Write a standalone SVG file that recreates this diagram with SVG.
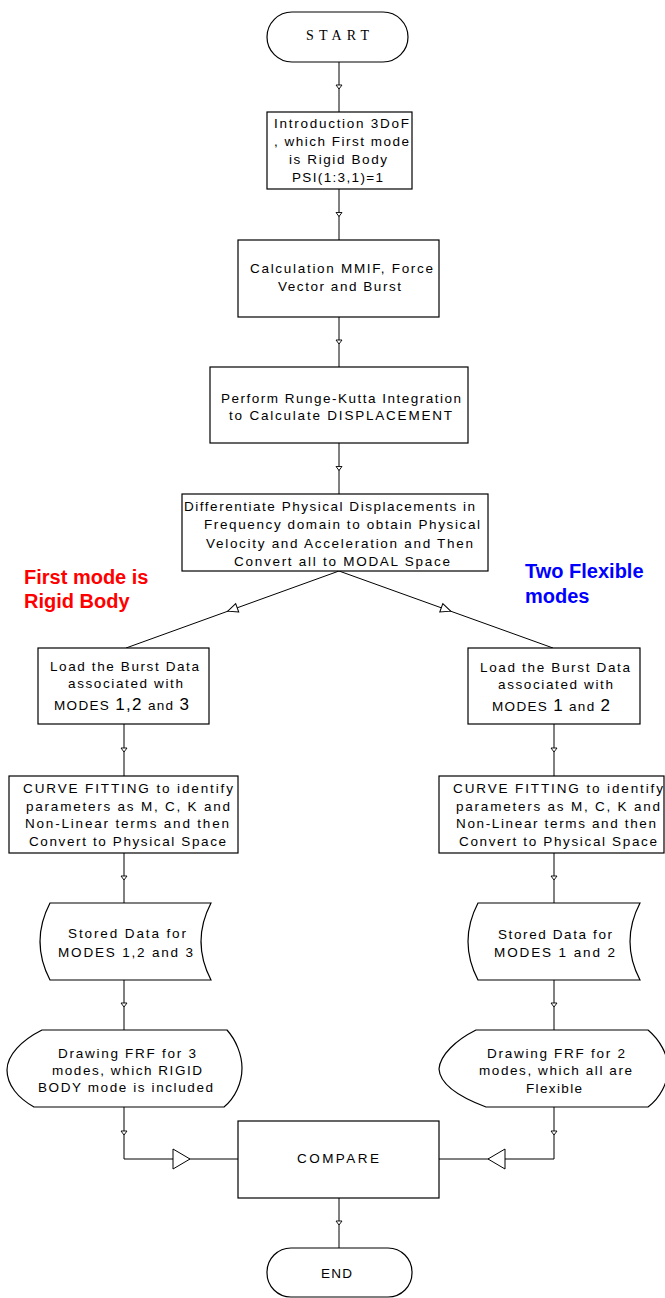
<svg xmlns="http://www.w3.org/2000/svg" width="665" height="1298" viewBox="0 0 665 1298">
<style>
.shape{fill:#fff;stroke:#000;stroke-width:1.2}
.conn{fill:none;stroke:#000;stroke-width:1}
.t{font-family:"Liberation Sans",Arial,sans-serif;font-size:13.5px;fill:#000}
.big{font-size:17px}
.lbl{font-family:"Liberation Sans",Arial,sans-serif;font-size:20px;font-weight:bold}
</style>
<defs>
<marker id="tick" markerUnits="userSpaceOnUse" orient="auto" refX="0" refY="0" markerWidth="8" markerHeight="8" overflow="visible"><path d="M-2,-3 L2,0 L-2,3 Z" fill="#fff" stroke="#000" stroke-width="0.9"/></marker>
<marker id="branch" markerUnits="userSpaceOnUse" orient="auto" refX="0" refY="0" markerWidth="12" markerHeight="12" overflow="visible"><path d="M-5,-4.5 L5,0 L-5,4.5 Z" fill="#fff" stroke="#000" stroke-width="1"/></marker>
<marker id="bigarrow" markerUnits="userSpaceOnUse" orient="auto" refX="0" refY="0" markerWidth="20" markerHeight="22" overflow="visible"><path d="M-8.5,-10 L8.5,0 L-8.5,10 Z" fill="#fff" stroke="#000" stroke-width="1"/></marker>
</defs>

<g id="connectors">
<path class="conn" marker-mid="url(#tick)" d="M339,62 L339,87 L339,112"/>
<path class="conn" marker-mid="url(#tick)" d="M339,189 L339,214.5 L339,240"/>
<path class="conn" marker-mid="url(#tick)" d="M339,317 L339,342 L339,367"/>
<path class="conn" marker-mid="url(#tick)" d="M339,443 L339,468.5 L339,494"/>
<path class="conn" marker-mid="url(#branch)" d="M339,571 L232.5,609.5 L126,648"/>
<path class="conn" marker-mid="url(#branch)" d="M339,571 L446,609.5 L553,648"/>
<path class="conn" marker-mid="url(#tick)" d="M124,724 L124,750 L124,776"/>
<path class="conn" marker-mid="url(#tick)" d="M124,853 L124,878 L124,903"/>
<path class="conn" marker-mid="url(#tick)" d="M124,980 L124,1005 L124,1030"/>
<path class="conn" marker-mid="url(#tick)" d="M124,1107 L124,1133 L124,1159"/>
<path class="conn" marker-mid="url(#bigarrow)" d="M124,1159 L181.5,1159 L238,1159"/>
<path class="conn" marker-mid="url(#tick)" d="M554,724 L554,750 L554,776"/>
<path class="conn" marker-mid="url(#tick)" d="M554,853 L554,878 L554,903"/>
<path class="conn" marker-mid="url(#tick)" d="M554,980 L554,1005 L554,1030"/>
<path class="conn" marker-mid="url(#tick)" d="M554,1107 L554,1133 L554,1159"/>
<path class="conn" marker-mid="url(#bigarrow)" d="M554,1159 L496.5,1159 L439,1159"/>
<path class="conn" marker-mid="url(#tick)" d="M339,1198 L339,1223 L339,1248"/>
</g>

<g id="start">
<rect class="shape" x="267" y="12" width="141" height="50" rx="25" ry="25"/>
<text x="306" y="40" textLength="63" lengthAdjust="spacing" style="font-family:'Liberation Serif','Times New Roman',serif;font-size:14px">START</text>
</g>

<g id="intro">
<rect class="shape" x="267" y="112" width="145" height="77"/>
<text class="t" x="274" y="128" textLength="135" lengthAdjust="spacing">Introduction 3DoF</text>
<text class="t" x="274" y="146" textLength="135" lengthAdjust="spacing">, which First mode</text>
<text class="t" x="289" y="164" textLength="98" lengthAdjust="spacing">is Rigid Body</text>
<text class="t" x="292" y="182" textLength="91" lengthAdjust="spacing">PSI(1:3,1)=1</text>
</g>

<g id="calc">
<rect class="shape" x="238" y="240" width="201" height="77"/>
<text class="t" x="250" y="273" textLength="183" lengthAdjust="spacing">Calculation MMIF, Force</text>
<text class="t" x="278" y="291" textLength="123" lengthAdjust="spacing">Vector and Burst</text>
</g>

<g id="rk">
<rect class="shape" x="210" y="367" width="258" height="76"/>
<text class="t" x="221" y="403" textLength="240" lengthAdjust="spacing">Perform Runge-Kutta Integration</text>
<text class="t" x="229" y="420" textLength="223" lengthAdjust="spacing">to Calculate DISPLACEMENT</text>
</g>

<g id="diff">
<rect class="shape" x="182" y="494" width="306" height="77"/>
<text class="t" x="184" y="511" textLength="291" lengthAdjust="spacing">Differentiate Physical Displacements in</text>
<text class="t" x="204" y="529" textLength="276" lengthAdjust="spacing">Frequency domain to obtain Physical</text>
<text class="t" x="206" y="548" textLength="267" lengthAdjust="spacing">Velocity and Acceleration and Then</text>
<text class="t" x="234" y="566" textLength="216" lengthAdjust="spacing">Convert all to MODAL Space</text>
</g>

<g id="label-left">
<text class="lbl" x="24" y="584" fill="#ff0000">First mode is</text>
<text class="lbl" x="24" y="608" fill="#ff0000">Rigid Body</text>
</g>
<g id="label-right">
<text class="lbl" x="525" y="578" fill="#0000ff">Two Flexible</text>
<text class="lbl" x="525" y="603" fill="#0000ff">modes</text>
</g>

<g id="load-left">
<rect class="shape" x="38" y="648" width="171" height="76"/>
<text class="t" x="50" y="671" textLength="149" lengthAdjust="spacing">Load the Burst Data</text>
<text class="t" x="68" y="688" textLength="115" lengthAdjust="spacing">associated with</text>
<text class="t" x="54" y="710" textLength="135" lengthAdjust="spacing">MODES <tspan class="big">1,2</tspan> and <tspan class="big">3</tspan></text>
</g>

<g id="fit-left">
<rect class="shape" x="9" y="776" width="229" height="77"/>
<text class="t" x="23" y="793" textLength="210" lengthAdjust="spacing">CURVE FITTING to identify</text>
<text class="t" x="26" y="811" textLength="204" lengthAdjust="spacing">parameters as M, C, K and</text>
<text class="t" x="25" y="828" textLength="204" lengthAdjust="spacing">Non-Linear terms and then</text>
<text class="t" x="29" y="846" textLength="197" lengthAdjust="spacing">Convert to Physical Space</text>
</g>

<g id="stored-left">
<path class="shape" d="M50,903 L211,903 Q191,941.5 211,980 L50,980 Q30,941.5 50,903 Z"/>
<text class="t" x="68" y="938" textLength="118" lengthAdjust="spacing">Stored Data for</text>
<text class="t" x="58" y="957" textLength="135" lengthAdjust="spacing">MODES 1,2 and 3</text>
</g>

<g id="display-left">
<path class="shape" d="M42,1030 L227,1030 C236,1040 242,1055 242,1068 C242,1083 235,1098 224,1107 L34,1107 C18,1098 7,1085 7,1070 C7,1055 22,1040 42,1030 Z"/>
<text class="t" x="58" y="1058" textLength="138" lengthAdjust="spacing">Drawing FRF for 3</text>
<text class="t" x="52" y="1075" textLength="150" lengthAdjust="spacing">modes, which RIGID</text>
<text class="t" x="38" y="1092" textLength="175" lengthAdjust="spacing">BODY mode is included</text>
</g>

<g id="load-right">
<rect class="shape" x="468" y="648" width="172" height="76"/>
<text class="t" x="480" y="672" textLength="150" lengthAdjust="spacing">Load the Burst Data</text>
<text class="t" x="498" y="689" textLength="115" lengthAdjust="spacing">associated with</text>
<text class="t" x="492" y="711" textLength="118" lengthAdjust="spacing">MODES <tspan class="big">1</tspan> and <tspan class="big">2</tspan></text>
</g>

<g id="fit-right">
<rect class="shape" x="439" y="776" width="225" height="77"/>
<text class="t" x="453" y="793" textLength="210" lengthAdjust="spacing">CURVE FITTING to identify</text>
<text class="t" x="456" y="811" textLength="204" lengthAdjust="spacing">parameters as M, C, K and</text>
<text class="t" x="456" y="828" textLength="200" lengthAdjust="spacing">Non-Linear terms and then</text>
<text class="t" x="459" y="846" textLength="198" lengthAdjust="spacing">Convert to Physical Space</text>
</g>

<g id="stored-right">
<path class="shape" d="M478,903 L640,903 Q620,941.5 640,980 L478,980 Q458,941.5 478,903 Z"/>
<text class="t" x="498" y="939" textLength="114" lengthAdjust="spacing">Stored Data for</text>
<text class="t" x="494" y="957" textLength="121" lengthAdjust="spacing">MODES 1 and 2</text>
</g>

<g id="display-right">
<path class="shape" d="M476,1030 L648,1030 C660,1040 668,1055 668,1068 C668,1083 660,1098 648,1107 L486,1107 C462,1098 440,1085 439,1069 C440,1055 456,1040 476,1030 Z"/>
<text class="t" x="487" y="1058" textLength="138" lengthAdjust="spacing">Drawing FRF for 2</text>
<text class="t" x="479" y="1075" textLength="153" lengthAdjust="spacing">modes, which all are</text>
<text class="t" x="526" y="1093" textLength="56" lengthAdjust="spacing">Flexible</text>
</g>

<g id="compare">
<rect class="shape" x="238" y="1121" width="201" height="77"/>
<text class="t" x="297" y="1163" textLength="82" lengthAdjust="spacing">COMPARE</text>
</g>

<g id="end">
<rect class="shape" x="267" y="1248" width="145" height="49" rx="24" ry="24"/>
<text class="t" x="321" y="1278" textLength="31" lengthAdjust="spacing">END</text>
</g>
</svg>
